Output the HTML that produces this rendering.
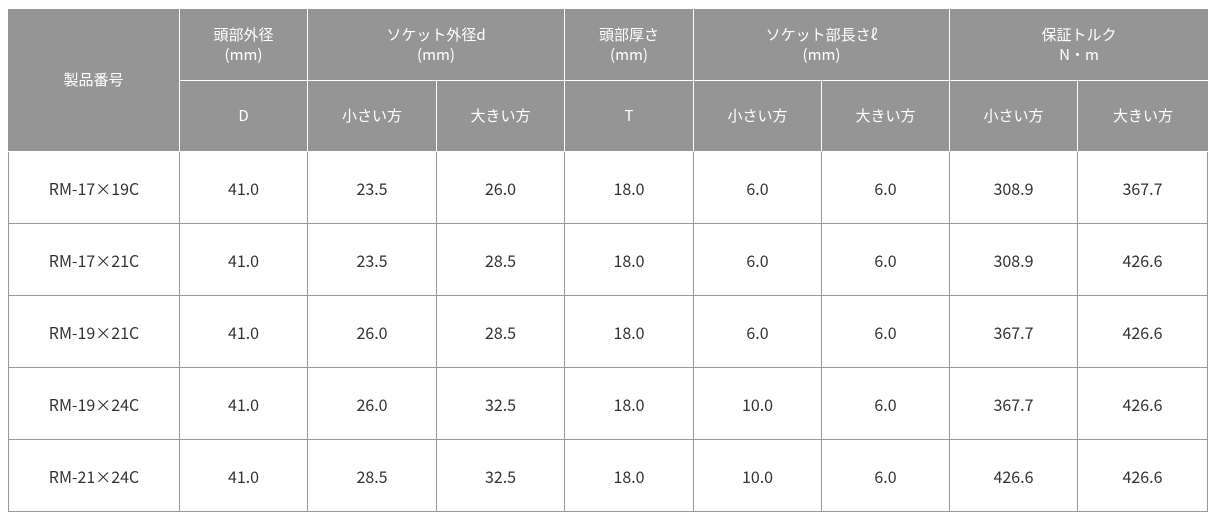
<!DOCTYPE html>
<html><head><meta charset="utf-8"><style>
body{margin:0;width:1219px;height:520px;background:#fff;position:relative;overflow:hidden;font-family:"Noto Sans CJK JP","Liberation Sans",sans-serif}
.c{position:absolute;box-sizing:border-box;display:flex;align-items:center;justify-content:center;text-align:center;line-height:20px}
.h{background:#959595;color:#fff;font-size:15px;border-right:1px solid #fff;border-bottom:1px solid #fff}
.d{color:#333;font-size:16px;border-right:1px solid #999;border-bottom:1px solid #999}
</style></head><body>
<div id="t"></div>
<script>
var X=[8,180,308,437,565,694,822,950,1078,1208];
var Y=[9,81,152,224,296,368,440,512];
var out='';
function cell(x0,x1,y0,y1,cls,txt,extra){out+='<div class="c '+cls+'" style="left:'+X[x0]+'px;top:'+Y[y0]+'px;width:'+(X[x1]-X[x0])+'px;height:'+(Y[y1]-Y[y0])+'px;'+(extra||'')+'">'+txt+'</div>';}
cell(0,1,0,2,'h','製品番号');
cell(1,2,0,1,'h','頭部外径<br>(mm)');
cell(2,4,0,1,'h','ソケット外径d<br>(mm)');
cell(4,5,0,1,'h','頭部厚さ<br>(mm)');
cell(5,7,0,1,'h','ソケット部長さℓ<br>(mm)');
cell(7,9,0,1,'h','保証トルク<br>N・m','border-right:none');
var sub=['D','小さい方','大きい方','T','小さい方','大きい方','小さい方','大きい方'];
for(var i=0;i<8;i++)cell(i+1,i+2,1,2,'h',sub[i],i==7?'border-right:none':'');
var rows=[['RM-17×19C','41.0','23.5','26.0','18.0','6.0','6.0','308.9','367.7'],
['RM-17×21C','41.0','23.5','28.5','18.0','6.0','6.0','308.9','426.6'],
['RM-19×21C','41.0','26.0','28.5','18.0','6.0','6.0','367.7','426.6'],
['RM-19×24C','41.0','26.0','32.5','18.0','10.0','6.0','367.7','426.6'],
['RM-21×24C','41.0','28.5','32.5','18.0','10.0','6.0','426.6','426.6']];
for(var r=0;r<5;r++)for(var c=0;c<9;c++)cell(c,c+1,r+2,r+3,'d',rows[r][c],c==0?'border-left:1px solid #999':'');
document.getElementById('t').innerHTML=out;
</script>
</body></html>
